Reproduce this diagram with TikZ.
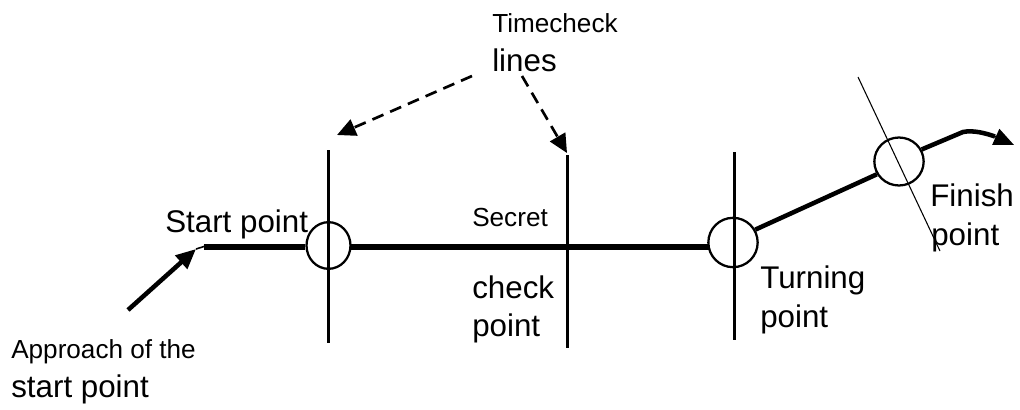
\documentclass[tikz,border=0pt]{standalone}
\usepackage{fontspec}
\setmainfont{Liberation Sans}
\usetikzlibrary{shapes.geometric,arrows.meta}
\tikzset{
  big/.style={inner sep=0pt,anchor=base west,font=\fontsize{23.5}{28}\selectfont},
  small/.style={inner sep=0pt,anchor=base west,font=\fontsize{19.6}{24}\selectfont},
  wp/.style={ellipse,draw,line width=1.7pt,inner sep=0pt},
  pole/.style={line width=2.25pt},
  leg/.style={line width=3.4pt},
  dashy/.style={line width=2pt,dash pattern=on 9pt off 5.5pt,-{Triangle[length=14pt,width=13pt]}}
}
\begin{document}
\begin{tikzpicture}[x=0.75pt,y=-0.75pt]
\useasboundingbox (0,0) rectangle (1020,410);
% waypoints
\node[wp,minimum width=33pt,minimum height=35pt] (c1) at (328.5,245.5) {};
\node[wp,minimum width=37pt,minimum height=37pt] (c2) at (733,242.5) {};
\node[wp,minimum width=37pt,minimum height=36pt] (c3) at (899,161.5) {};
% free ends
\coordinate (s0) at (204,246.5);
\coordinate (a0) at (128,310);
\coordinate (a1) at (196,249);
\coordinate (f1) at (963,132);
\coordinate (f3) at (995,136.5);
\coordinate (f2) at (1014,145);
\coordinate (e2) at (709,246.5);
\coordinate (e1) at (350,246.5);
\coordinate (p1a) at (328.5,150); \coordinate (p1b) at (328.5,343);
\coordinate (p2a) at (567,155);   \coordinate (p2b) at (567,348);
\coordinate (p3a) at (734,152);   \coordinate (p3b) at (734,340);
\coordinate (p4a) at (858,77);    \coordinate (p4b) at (940,251);
\coordinate (d1a) at (472,76);    \coordinate (d1b) at (337,135);
\coordinate (d2a) at (522,76);    \coordinate (d2b) at (567,153);
% course
\draw[line width=4.5pt] (s0) -- (e1 -| c1.west);
\draw[line width=4.5pt] (e1) -- (e2);
\draw[leg] (c2.30) -- (c3.210);
\draw[leg] (c3.28) -- (f1) .. controls (973,130) and (985,133) .. (f3);
\draw[-{Triangle[length=15pt,width=13pt]},line width=1pt] (f3) -- (f2);
\draw[leg,-{Triangle[length=15pt,width=13pt]}] (a0) -- (a1);
\draw[line width=1.2pt] (a1) -- (s0);
% time check lines
\draw[pole] (p1a) -- (p1b);
\draw[pole] (p2a) -- (p2b);
\draw[pole] (p3a) -- (p3b);
\draw[line width=0.8pt] (p4a) -- (p4b);
\draw[dashy] (d1a) -- (d1b);
\draw[dashy] (d2a) -- (d2b);
% labels
\node[small] (t1) at (492,33) {Timecheck};
\node[big] (t2) at (492,72) {lines};
\node[big] (t3) at (165,232) {Start point};
\node[small] (t4) at (472,226) {Secret};
\node[big] (t5) at (472,298) {check};
\node[big] (t6) at (472,336) {point};
\node[big] (t7) at (760,288) {Turning};
\node[big] (t8) at (760,327) {point};
\node[big] (t9) at (930,206) {Finish};
\node[big] (t10) at (931,245) {point};
\node[small] (t11) at (11,358) {Approach of the};
\node[big] (t12) at (11,397) {start point};
\end{tikzpicture}
\end{document}
